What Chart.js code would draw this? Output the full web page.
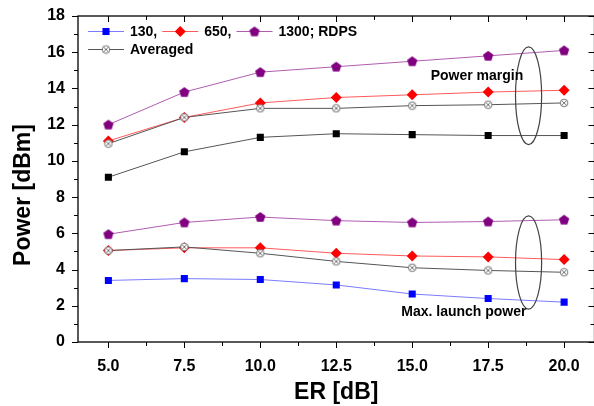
<!DOCTYPE html>
<html>
<head>
<meta charset="utf-8">
<script src="https://cdn.jsdelivr.net/npm/chart.js@4/dist/chart.umd.min.js"></script>
<style>
  html, body { margin: 0; padding: 0; background: #fff; overflow: hidden; }
  #wrap { width: 600px; height: 406px; }
</style>
</head>
<body>
<div id="wrap"><canvas id="powerChart" width="600" height="406"></canvas></div>
<script>
// ER [dB] values on the x axis
const erValues = [5.0, 7.5, 10.0, 12.5, 15.0, 17.5, 20.0];
const xTickValues = [5.0, 6.25, 7.5, 8.75, 10.0, 11.25, 12.5, 13.75, 15.0, 16.25, 17.5, 18.75, 20.0];

// power margin (upper group)
const margin130  = [9.1, 10.5, 11.3, 11.5, 11.45, 11.4, 11.4];
const margin650  = [11.1, 12.4, 13.2, 13.5, 13.65, 13.8, 13.9];
const margin1300 = [12.0, 13.8, 14.9, 15.2, 15.5, 15.8, 16.1];
const marginAvg  = [10.95, 12.4, 12.9, 12.9, 13.05, 13.1, 13.2];

// max. launch power (lower group)
const launch130  = [3.4, 3.5, 3.45, 3.15, 2.65, 2.4, 2.2];
const launch650  = [5.05, 5.2, 5.2, 4.9, 4.75, 4.7, 4.55];
const launch1300 = [5.95, 6.6, 6.9, 6.7, 6.6, 6.65, 6.75];
const launchAvg  = [5.05, 5.25, 4.9, 4.45, 4.1, 3.95, 3.85];

const legendRows = [['130,', '650,', '1300; RDPS'], ['Averaged']];

const FONT = '"Liberation Sans", Arial, sans-serif';
const pts = ys => erValues.map((x, i) => ({ x, y: ys[i] }));

// custom marker images
function makePentagon(color) {
  const c = document.createElement('canvas');
  c.width = 12; c.height = 12;
  const g = c.getContext('2d');
  g.fillStyle = color;
  g.beginPath();
  for (let k = 0; k < 5; k++) {
    const a = -Math.PI / 2 + k * 2 * Math.PI / 5;
    const px = 6 + 5.4 * Math.cos(a), py = 6.4 + 5.4 * Math.sin(a);
    k ? g.lineTo(px, py) : g.moveTo(px, py);
  }
  g.closePath();
  g.fill();
  return c;
}
function makeCircleX() {
  const c = document.createElement('canvas');
  c.width = 10; c.height = 10;
  const g = c.getContext('2d');
  g.strokeStyle = '#767676';
  g.lineWidth = 1;
  g.fillStyle = '#fff';
  g.beginPath(); g.arc(5, 5, 3.8, 0, Math.PI * 2); g.fill(); g.stroke();
  g.beginPath();
  g.moveTo(2.4, 2.4); g.lineTo(7.6, 7.6);
  g.moveTo(7.6, 2.4); g.lineTo(2.4, 7.6);
  g.stroke();
  return c;
}
const pentagon = makePentagon('#800080');
const circleX = makeCircleX();

const styles = {
  '130,':       { line: '#7b7bff', fill: '#0000ff', style: 'rect', r: 5 },
  '650,':       { line: '#ff5a5a', fill: '#ff0000', style: 'rectRot', r: 5.5 },
  '1300; RDPS': { line: '#b05cb0', fill: '#800080', style: pentagon, r: 5 },
  'Averaged':   { line: '#555555', fill: '#ffffff', style: circleX, r: 5 }
};

function series(label, ys, st, order) {
  return {
    label, data: pts(ys), order,
    borderColor: st.line, borderWidth: 1,
    pointStyle: st.style, pointRadius: st.r, pointHoverRadius: st.r,
    pointBackgroundColor: st.fill, pointBorderColor: st.fill, pointBorderWidth: 0,
    tension: 0
  };
}

const datasets = [
  series('130,', launch130, styles['130,'], 3),
  series('650,', launch650, styles['650,'], 2),
  series('1300; RDPS', launch1300, styles['1300; RDPS'], 1),
  series('Averaged', launchAvg, styles['Averaged'], 0),
  series('130, margin', margin130, { line: '#555555', fill: '#000000', style: 'rect', r: 5 }, 3),
  series('650,', margin650, styles['650,'], 2),
  series('1300; RDPS', margin1300, styles['1300; RDPS'], 1),
  series('Averaged', marginAvg, styles['Averaged'], 0)
];

// frame, ticks, legend, ellipses and notes
const decor = {
  id: 'decor',
  afterDraw(chart) {
    const { ctx, chartArea: a, scales: { x, y } } = chart;
    ctx.save();
    ctx.strokeStyle = '#000';
    ctx.lineWidth = 1.3;
    ctx.strokeRect(a.left, a.top, a.right - a.left, a.bottom - a.top);
    ctx.lineWidth = 1;
    ctx.beginPath();
    xTickValues.forEach(v => {
      const px = Math.round(x.getPixelForValue(v)) + 0.5;
      const len = v % 2.5 === 0 ? 6 : 4;
      ctx.moveTo(px, a.bottom); ctx.lineTo(px, a.bottom + len);
      ctx.moveTo(px, a.top); ctx.lineTo(px, a.top + len);
    });
    for (let v = 0; v <= 18; v++) {
      const py = Math.round(y.getPixelForValue(v)) + 0.5;
      const len = v % 2 === 0 ? 6 : 4;
      ctx.moveTo(a.left, py); ctx.lineTo(a.left - len, py);
      ctx.moveTo(a.right, py); ctx.lineTo(a.right - len, py);
    }
    ctx.stroke();

    // y axis title
    ctx.save();
    ctx.translate(24, 195);
    ctx.rotate(-Math.PI / 2);
    ctx.fillStyle = '#000';
    ctx.font = 'bold 23px ' + FONT;
    ctx.textAlign = 'center';
    ctx.textBaseline = 'middle';
    ctx.fillText('Power [dBm]', 0, 0);
    ctx.restore();

    // ellipses
    ctx.strokeStyle = '#444';
    ctx.lineWidth = 1.2;
    [[18.83, 13.6, 2.7], [18.83, 4.39, 2.57]].forEach(([cx, cy, ry]) => {
      const px = x.getPixelForValue(cx), py = y.getPixelForValue(cy);
      const rx = x.getPixelForValue(cx + 0.43) - px;
      const rpy = py - y.getPixelForValue(cy + ry);
      ctx.beginPath();
      ctx.ellipse(px, py, rx, rpy, 0, 0, Math.PI * 2);
      ctx.stroke();
    });

    // notes
    ctx.fillStyle = '#000';
    ctx.font = 'bold 14px ' + FONT;
    ctx.textAlign = 'center';
    ctx.textBaseline = 'middle';
    ctx.fillText('Power margin', x.getPixelForValue(17.13), y.getPixelForValue(14.69));
    ctx.fillText('Max. launch power', x.getPixelForValue(16.7), y.getPixelForValue(1.66));

    // legend
    ctx.textAlign = 'left';
    let rowY = 31;
    legendRows.forEach(row => {
      let lx = a.left + 10;
      row.forEach(label => {
        const st = styles[label];
        ctx.strokeStyle = st.line;
        ctx.lineWidth = 1;
        ctx.beginPath();
        ctx.moveTo(lx, rowY + 0.5); ctx.lineTo(lx + 36, rowY + 0.5);
        ctx.stroke();
        ctx.fillStyle = st.fill;
        Chart.helpers.drawPoint(ctx, { pointStyle: st.style, radius: st.r, borderWidth: 0, rotation: 0 }, lx + 18, rowY + 0.5);
        ctx.fillStyle = '#000';
        ctx.fillText(label, lx + 42, rowY + 1);
        lx += 42 + ctx.measureText(label).width + 5;
      });
      rowY += 18;
    });
    ctx.restore();
  }
};

new Chart(document.getElementById('powerChart'), {
  type: 'line',
  data: { datasets },
  plugins: [decor],
  options: {
    responsive: false,
    animation: false,
    layout: { padding: { top: 16, right: 3, left: 0, bottom: 0 } },
    plugins: { legend: { display: false }, tooltip: { enabled: false } },
    scales: {
      x: {
        type: 'linear', min: 4, max: 21,
        afterFit: s => { s.height = 64; s.paddingLeft = 0; s.paddingRight = 0; },
        afterBuildTicks: s => { s.ticks = erValues.map(v => ({ value: v })); },
        grid: { display: false, drawTicks: false },
        border: { display: false },
        ticks: {
          padding: 15, color: '#000',
          font: { family: FONT, size: 16, weight: 'bold' },
          callback: v => v.toFixed(1)
        },
        title: {
          display: true, text: 'ER [dB]', color: '#000', padding: { top: 0, bottom: 0 },
          font: { family: FONT, size: 23, weight: 'bold' }
        }
      },
      y: {
        min: 0, max: 18,
        afterFit: s => { s.width = 78; s.paddingTop = 0; s.paddingBottom = 0; },
        grid: { display: false, drawTicks: false },
        border: { display: false },
        ticks: {
          stepSize: 2, padding: 13, color: '#000',
          font: { family: FONT, size: 16, weight: 'bold' }
        },
        title: { display: false }
      }
    }
  }
});
</script>
</body>
</html>
